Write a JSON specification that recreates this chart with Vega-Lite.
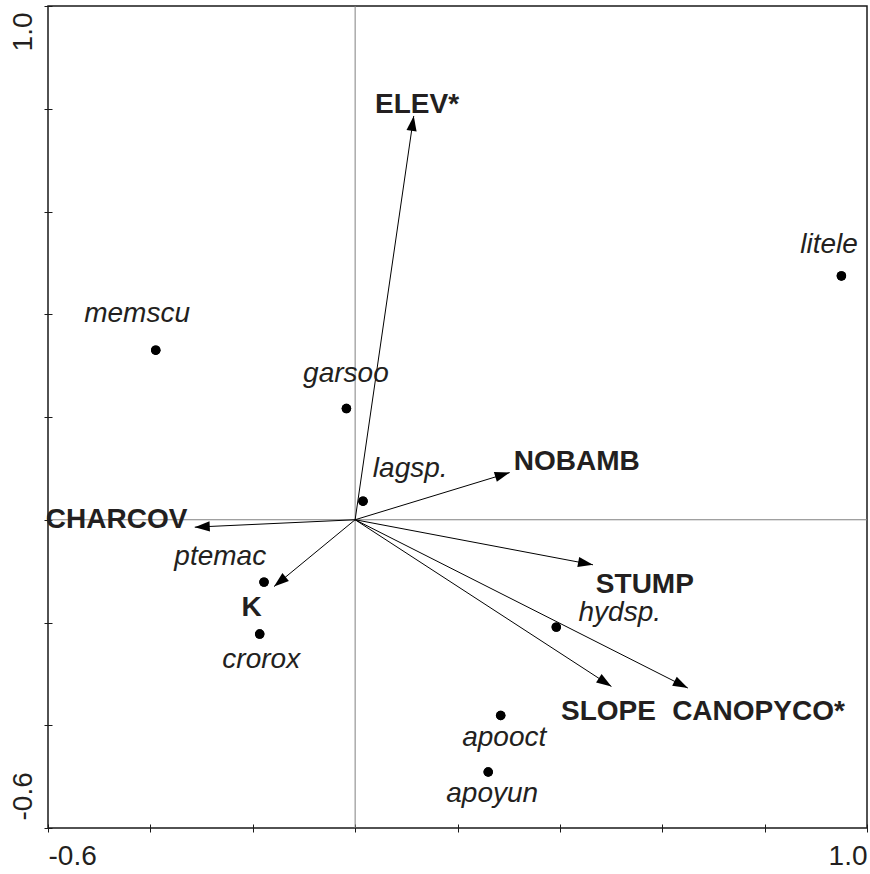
{
  "$schema": "https://vega.github.io/schema/vega-lite/v6.json",
  "width": 819,
  "height": 822,
  "autosize": {"type": "none"},
  "padding": {"left": 48, "top": 6, "right": 3, "bottom": 46},
  "background": "white",
  "config": {
    "view": {"stroke": "#1a1a1a", "strokeWidth": 1.5},
    "text": {"font": "Liberation Sans", "color": "#231f20"},
    "axisX": {
      "title": null, "domain": false, "grid": false,
      "offset": -4, "tickSize": 8, "tickColor": "#1a1a1a", "tickWidth": 1,
      "labelFont": "Liberation Sans", "labelFontSize": 28, "labelColor": "#231f20",
      "labelPadding": 10, "labelBaseline": "top",
      "labelOverlap": false, "labelBound": false, "labelFlush": false
    },
    "axisY": {
      "title": null, "domain": false, "grid": false,
      "offset": -4, "tickSize": 8, "tickColor": "#1a1a1a", "tickWidth": 1,
      "labelFont": "Liberation Sans", "labelFontSize": 28, "labelColor": "#231f20",
      "labelAngle": -90, "labelPadding": 13, "labelBaseline": "alphabetic",
      "labelOverlap": false, "labelBound": false, "labelFlush": false
    }
  },
  "datasets": {
    "zero": [{"c": 0}],
    "env": [
      {"name": "ELEV*", "x": 0.1145, "y": 0.786, "lx": 0.121, "ly": 0.791},
      {"name": "NOBAMB", "x": 0.302, "y": 0.0918, "lx": 0.433, "ly": 0.097},
      {"name": "CHARCOV", "x": -0.3133, "y": -0.0144, "lx": -0.466, "ly": -0.016},
      {"name": "K", "x": -0.1584, "y": -0.13, "lx": -0.202, "ly": -0.188},
      {"name": "STUMP", "x": 0.4647, "y": -0.0877, "lx": 0.566, "ly": -0.143},
      {"name": "SLOPE", "x": 0.5007, "y": -0.3245, "lx": 0.495, "ly": -0.389},
      {"name": "CANOPYCO*", "x": 0.65, "y": -0.3276, "lx": 0.788, "ly": -0.389}
    ],
    "spp": [
      {"name": "litele", "x": 0.95, "y": 0.4745, "lx": 0.926, "ly": 0.519},
      {"name": "memscu", "x": -0.3895, "y": 0.33, "lx": -0.426, "ly": 0.384},
      {"name": "garsoo", "x": -0.017, "y": 0.2164, "lx": -0.018, "ly": 0.269},
      {"name": "lagsp.", "x": 0.0154, "y": 0.0362, "lx": 0.1076, "ly": 0.083},
      {"name": "ptemac", "x": -0.178, "y": -0.1214, "lx": -0.2635, "ly": -0.0877},
      {"name": "crorox", "x": -0.1864, "y": -0.2226, "lx": -0.1834, "ly": -0.288},
      {"name": "hydsp.", "x": 0.393, "y": -0.209, "lx": 0.517, "ly": -0.197},
      {"name": "apooct", "x": 0.2844, "y": -0.381, "lx": 0.2913, "ly": -0.441},
      {"name": "apoyun", "x": 0.26, "y": -0.491, "lx": 0.2678, "ly": -0.55}
    ]
  },
  "layer": [
    {
      "data": {"name": "spp"},
      "mark": {"type": "point", "filled": true, "color": "black", "size": 90, "opacity": 1, "strokeWidth": 0},
      "encoding": {
        "x": {
          "field": "x", "type": "quantitative",
          "scale": {"domain": [-0.6, 1.0], "nice": false, "zero": false},
          "axis": {
            "title": null,
            "values": [-0.6, -0.4, -0.2, 0, 0.2, 0.4, 0.6, 0.8, 1.0],
            "labelExpr": "abs(datum.value + 0.6) < 0.001 ? '-0.6' : (abs(datum.value - 1) < 0.001 ? '1.0' : '')",
            "labelAlign": {"condition": {"test": "datum.value < 0", "value": "left"}, "value": "right"}
          }
        },
        "y": {
          "field": "y", "type": "quantitative",
          "scale": {"domain": [-0.6, 1.0], "nice": false, "zero": false},
          "axis": {
            "title": null,
            "values": [-0.6, -0.4, -0.2, 0, 0.2, 0.4, 0.6, 0.8, 1.0],
            "labelExpr": "abs(datum.value + 0.6) < 0.001 ? '-0.6' : (abs(datum.value - 1) < 0.001 ? '1.0' : '')",
            "labelAlign": {"condition": {"test": "datum.value > 0", "value": "right"}, "value": "left"},
            "labelOffset": {"condition": {"test": "datum.value > 0", "value": 6}, "value": -8}
          }
        }
      }
    },
    {
      "data": {"name": "zero"},
      "mark": {"type": "rule", "color": "#808080", "strokeWidth": 1},
      "encoding": {
        "x": {"field": "c", "type": "quantitative", "scale": {"domain": [-0.6, 1.0], "nice": false, "zero": false}, "axis": {"title": null}}
      }
    },
    {
      "data": {"name": "zero"},
      "mark": {"type": "rule", "color": "#808080", "strokeWidth": 1},
      "encoding": {
        "y": {"field": "c", "type": "quantitative", "scale": {"domain": [-0.6, 1.0], "nice": false, "zero": false}, "axis": {"title": null}}
      }
    },
    {
      "data": {"name": "env"},
      "mark": {"type": "rule", "color": "black", "strokeWidth": 1},
      "encoding": {
        "x": {"field": "x", "type": "quantitative", "scale": {"domain": [-0.6, 1.0], "nice": false, "zero": false}, "axis": {"title": null}},
        "y": {"field": "y", "type": "quantitative", "scale": {"domain": [-0.6, 1.0], "nice": false, "zero": false}, "axis": {"title": null}},
        "x2": {"datum": 0},
        "y2": {"datum": 0}
      }
    },
    {
      "data": {"name": "env"},
      "transform": [{"calculate": "atan2(datum.x, datum.y) * 180 / PI", "as": "ang"}],
      "mark": {"type": "point", "shape": "M0,0L-0.34,1L0.34,1Z", "filled": true, "color": "black", "size": 900, "opacity": 1, "strokeWidth": 0},
      "encoding": {
        "x": {"field": "x", "type": "quantitative", "scale": {"domain": [-0.6, 1.0], "nice": false, "zero": false}, "axis": {"title": null}},
        "y": {"field": "y", "type": "quantitative", "scale": {"domain": [-0.6, 1.0], "nice": false, "zero": false}, "axis": {"title": null}},
        "angle": {"field": "ang", "type": "quantitative", "scale": null}
      }
    },
    {
      "data": {"name": "spp"},
      "mark": {"type": "point", "filled": true, "color": "black", "size": 90, "opacity": 1, "strokeWidth": 0},
      "encoding": {
        "x": {"field": "x", "type": "quantitative", "scale": {"domain": [-0.6, 1.0], "nice": false, "zero": false}, "axis": {"title": null}},
        "y": {"field": "y", "type": "quantitative", "scale": {"domain": [-0.6, 1.0], "nice": false, "zero": false}, "axis": {"title": null}}
      }
    },
    {
      "data": {"name": "env"},
      "mark": {"type": "text", "fontWeight": "bold", "fontSize": 28, "align": "center", "baseline": "alphabetic", "font": "Liberation Sans", "color": "#231f20"},
      "encoding": {
        "x": {"field": "lx", "type": "quantitative", "scale": {"domain": [-0.6, 1.0], "nice": false, "zero": false}, "axis": {"title": null}},
        "y": {"field": "ly", "type": "quantitative", "scale": {"domain": [-0.6, 1.0], "nice": false, "zero": false}, "axis": {"title": null}},
        "text": {"field": "name", "type": "nominal"}
      }
    },
    {
      "data": {"name": "spp"},
      "mark": {"type": "text", "fontStyle": "italic", "fontSize": 28, "align": "center", "baseline": "alphabetic", "font": "Liberation Sans", "color": "#231f20"},
      "encoding": {
        "x": {"field": "lx", "type": "quantitative", "scale": {"domain": [-0.6, 1.0], "nice": false, "zero": false}, "axis": {"title": null}},
        "y": {"field": "ly", "type": "quantitative", "scale": {"domain": [-0.6, 1.0], "nice": false, "zero": false}, "axis": {"title": null}},
        "text": {"field": "name", "type": "nominal"}
      }
    }
  ]
}
